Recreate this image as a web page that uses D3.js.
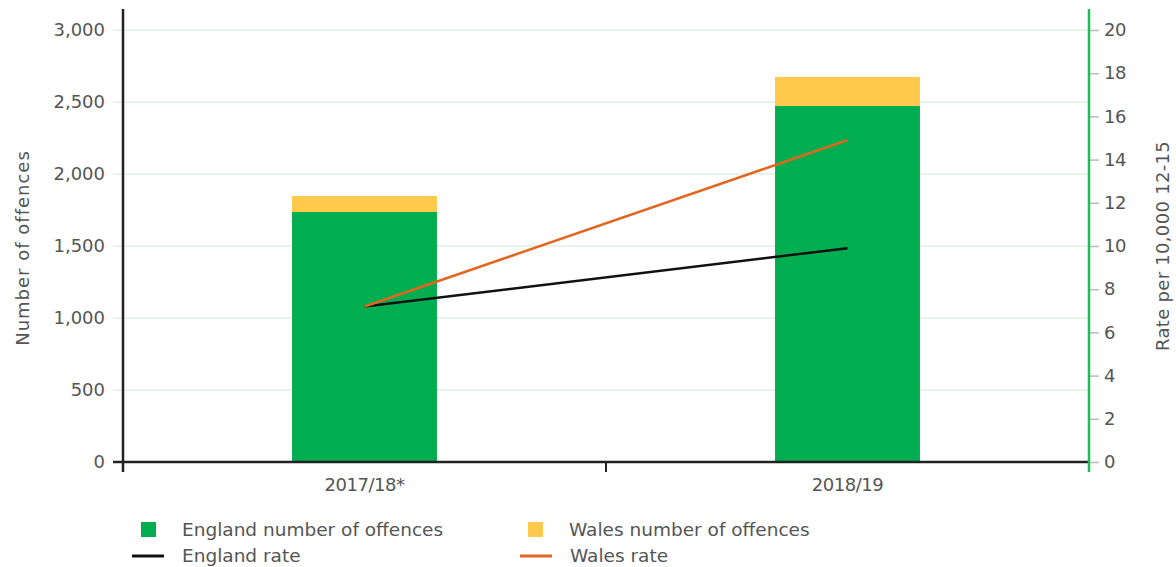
<!DOCTYPE html>
<html>
<head>
<meta charset="utf-8">
<script src="https://cdn.jsdelivr.net/npm/d3@7"></script>
<style>
  body { margin: 0; background: #fff; }
  text { font-family: "DejaVu Sans", sans-serif; fill: #555; }
</style>
</head>
<body>
<svg id="chart" width="1176" height="567"></svg>
<script>
// Chart data
var years = ["2017/18*", "2018/19"];
var englandOffences = [1736, 2472];
var walesOffences = [111, 202];
var englandRate = [7.2, 9.9];
var walesRate = [7.2, 14.9];
var leftTicks = [0, 500, 1000, 1500, 2000, 2500, 3000];
var rightTicks = [0, 2, 4, 6, 8, 10, 12, 14, 16, 18, 20];

// Plot area
var plotLeft = 123, plotRight = 1089, plotTop = 30, plotBottom = 462;

var svg = d3.select('#chart');

// Scales
var xScale = d3.scaleBand().domain(years).range([plotLeft, plotRight]).padding(0);
var yScale = d3.scaleLinear().domain([0, 3000]).range([plotBottom, plotTop]);
var rScale = d3.scaleLinear().domain([0, 20]).range([plotBottom, plotTop]);
var barWidth = xScale.bandwidth() * 0.3;

// Gridlines
svg.append('g')
    .selectAll('line')
    .data(leftTicks.slice(1))
    .enter()
    .append('line')
    .attr('x1', plotLeft - 10)
    .attr('x2', plotRight)
    .attr('y1', function(d) { return yScale(d); })
    .attr('y2', function(d) { return yScale(d); })
    .attr('stroke', '#dff1e4')
    .attr('stroke-width', 1.5);

// Bars (stacked: England then Wales)
var bars = svg.append('g');
years.forEach(function(y, i) {
    var x = xScale(y) + xScale.bandwidth() / 2 - barWidth / 2;
    bars.append('rect')
        .attr('x', x)
        .attr('y', yScale(englandOffences[i]))
        .attr('width', barWidth)
        .attr('height', yScale(0) - yScale(englandOffences[i]))
        .attr('fill', '#00ae4f');
    bars.append('rect')
        .attr('x', x)
        .attr('y', yScale(englandOffences[i] + walesOffences[i]))
        .attr('width', barWidth)
        .attr('height', yScale(englandOffences[i]) - yScale(englandOffences[i] + walesOffences[i]))
        .attr('fill', '#ffca4b');
});

// Left axis
var yAxis = d3.axisLeft(yScale)
    .tickValues(leftTicks)
    .tickFormat(d3.format(','))
    .tickSize(0)
    .tickPadding(18);
var gy = svg.append('g')
    .attr('transform', 'translate(' + plotLeft + ',0)')
    .call(yAxis);
gy.select('.domain').remove();
gy.selectAll('text').style('font-size', '18px');
svg.append('line')
    .attr('x1', plotLeft).attr('x2', plotLeft)
    .attr('y1', 9).attr('y2', plotBottom + 10)
    .attr('stroke', '#222').attr('stroke-width', 2.5);

// Bottom axis
var xAxis = d3.axisBottom(xScale).tickSize(0).tickPadding(16);
var gx = svg.append('g')
    .attr('transform', 'translate(0,' + plotBottom + ')')
    .call(xAxis);
gx.select('.domain').remove();
gx.selectAll('text').style('font-size', '18px').style('letter-spacing', '-0.5px');
svg.append('line')
    .attr('x1', plotLeft - 10).attr('x2', plotRight)
    .attr('y1', plotBottom).attr('y2', plotBottom)
    .attr('stroke', '#222').attr('stroke-width', 2.5);
// Tick between categories
svg.append('line')
    .attr('x1', xScale(years[1])).attr('x2', xScale(years[1]))
    .attr('y1', plotBottom).attr('y2', plotBottom + 10)
    .attr('stroke', '#222').attr('stroke-width', 2);

// Right axis
var rAxis = d3.axisRight(rScale)
    .tickValues(rightTicks)
    .tickSize(10)
    .tickPadding(5);
var gr = svg.append('g')
    .attr('transform', 'translate(' + plotRight + ',0)')
    .call(rAxis);
gr.select('.domain').remove();
gr.selectAll('line').attr('stroke', '#bbb').attr('stroke-width', 1.5);
gr.selectAll('text').style('font-size', '18px').style('letter-spacing', '-0.5px');
svg.append('line')
    .attr('x1', plotRight).attr('x2', plotRight)
    .attr('y1', 9).attr('y2', plotBottom + 10)
    .attr('stroke', '#1fbd5a').attr('stroke-width', 2.5);

// Rate lines
var lineGenerator = d3.line()
    .x(function(d, i) { return xScale(years[i]) + xScale.bandwidth() / 2; })
    .y(function(d) { return rScale(d); });

svg.append('path')
    .attr('d', lineGenerator(englandRate))
    .attr('stroke', '#111')
    .attr('stroke-width', 2.5)
    .attr('fill', 'none');

svg.append('path')
    .attr('d', lineGenerator(walesRate))
    .attr('stroke', '#e2661f')
    .attr('stroke-width', 2.5)
    .attr('fill', 'none');

// Axis titles
svg.append('text')
    .attr('transform', 'translate(29,' + ((plotTop + plotBottom) / 2 + 2) + ') rotate(-90)')
    .style('text-anchor', 'middle')
    .style('font-size', '18px')
    .style('letter-spacing', '1px')
    .text('Number of offences');

svg.append('text')
    .attr('transform', 'translate(1169,' + ((plotTop + plotBottom) / 2) + ') rotate(-90)')
    .style('text-anchor', 'middle')
    .style('font-size', '18px')
    .style('letter-spacing', '0.3px')
    .text('Rate per 10,000 12-15');

// Legend
var legendItems = [
    { label: 'England number of offences', type: 'rect', color: '#00ae4f', x: 141, y: 530 },
    { label: 'Wales number of offences', type: 'rect', color: '#ffca4b', x: 528, y: 530 },
    { label: 'England rate', type: 'line', color: '#111', x: 132, y: 556 },
    { label: 'Wales rate', type: 'line', color: '#e2661f', x: 520, y: 556 }
];

var legend = svg.append('g');
legendItems.forEach(function(d) {
    if (d.type === 'rect') {
        legend.append('rect')
            .attr('x', d.x).attr('y', d.y - 8)
            .attr('width', 15).attr('height', 15)
            .attr('fill', d.color);
        legend.append('text')
            .attr('x', d.x + 41).attr('y', d.y + 6)
            .style('font-size', '18.5px')
            .text(d.label);
    } else {
        legend.append('line')
            .attr('x1', d.x).attr('x2', d.x + 32)
            .attr('y1', d.y).attr('y2', d.y)
            .attr('stroke', d.color).attr('stroke-width', 3);
        legend.append('text')
            .attr('x', d.x + 50).attr('y', d.y + 6)
            .style('font-size', '18.5px')
            .text(d.label);
    }
});
</script>
</body>
</html>
